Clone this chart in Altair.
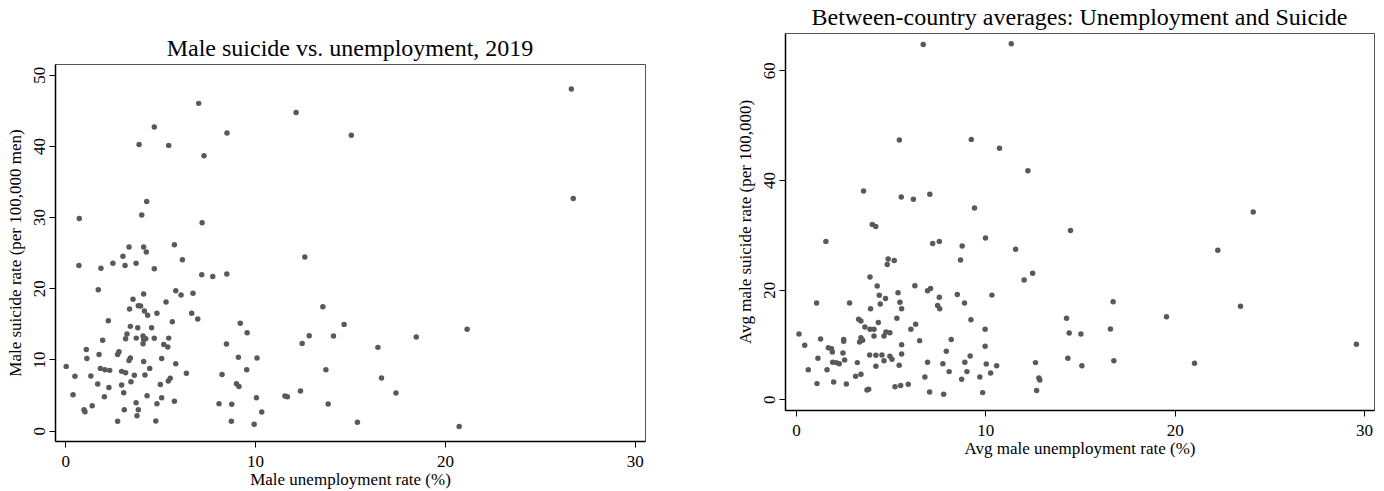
import altair as alt
import pandas as pd

# ---- Left panel: Male suicide vs. unemployment, 2019 ----
unemp_2019 = [
    3.36, 4.13, 4.27, 5.75, 3.04, 0.72, 1.88, 2.51, 3.15, 3.73, 4.69, 6.17, 7.19,
    1.74, 4.13, 5.82, 6.10, 6.73, 3.57, 5.31, 3.39, 3.85, 3.97, 4.17, 4.34, 4.83,
    6.66, 6.98, 2.27, 5.64, 3.43, 3.82, 4.55, 3.25, 3.18, 3.74, 4.10, 4.13, 4.24,
    4.10, 4.69, 5.45, 1.97, 5.19, 5.40, 1.11, 1.14, 1.78, 2.83, 2.76, 3.43, 3.36,
    4.13, 5.08, 5.82, 0.05, 1.85, 2.09, 2.34, 2.97, 3.18, 4.45, 6.38, 0.51, 1.35,
    3.64, 4.20, 5.53, 5.43, 1.71, 3.46, 5.01, 2.97, 2.30, 3.08, 0.41, 2.06, 4.31,
    5.08, 4.83, 5.75, 3.73, 1.42, 0.99, 1.04, 3.11, 3.85, 3.78, 2.76, 4.77,
    0.74, 4.03, 4.29, 7.21, 3.89, 4.69, 5.45, 7.03, 7.31, 8.52, 12.16, 12.62, 15.07,
    7.77, 8.51, 8.10, 8.26, 8.49, 8.77, 8.75, 9.22, 9.12, 9.02, 9.15, 9.58, 9.56,
    9.95, 10.07, 10.10, 10.35, 11.57, 11.70, 12.39, 12.48, 12.85, 13.57, 13.73,
    13.85, 14.13, 14.69,
    26.66, 26.76, 21.17, 18.49, 16.47, 16.66, 17.42, 15.39, 20.75,
]
suicide_2019 = [
    25.8, 25.8, 25.1, 26.1, 24.5, 23.2, 22.8, 23.5, 23.2, 23.5, 22.75, 24.0, 21.9,
    19.8, 19.2, 19.66, 19.06, 19.3, 18.45, 18.07, 17.1, 17.55, 17.5, 16.8, 16.2, 16.5,
    16.5, 15.7, 15.45, 15.3, 14.65, 14.47, 14.47, 13.58, 12.9, 13.0, 13.3, 12.8, 12.9,
    12.2, 12.97, 13.0, 12.7, 12.1, 11.75, 11.4, 10.15, 10.7, 11.1, 10.7, 10.2, 9.87,
    9.7, 10.15, 9.4, 9.03, 8.75, 8.57, 8.47, 8.33, 8.15, 8.75, 8.05, 7.63, 7.68,
    7.77, 7.82, 7.35, 6.97, 6.55, 6.88, 6.5, 6.41, 6.08, 5.34, 5.06, 4.78, 4.92,
    4.63, 3.79, 4.12, 3.93, 3.5, 2.95, 2.67, 2.95, 2.95, 2.1, 1.31, 1.36,
    29.8, 30.3, 32.2, 29.2, 40.2, 42.65, 40.07, 45.97, 38.6, 41.8, 44.7, 24.4, 41.5,
    21.67, 22.0, 3.79, 7.9, 12.17, 3.7, 1.31, 15.1, 10.3, 6.6, 6.2, 13.76, 8.57,
    0.89, 4.63, 10.2, 2.63, 4.87, 4.78, 5.57, 12.26, 13.34, 17.4, 8.57,
    3.75, 13.3, 14.93,
    48.0, 32.6, 14.23, 13.16, 11.7, 7.4, 5.29, 1.17, 0.6,
]

# ---- Right panel: Between-country averages ----
avg_unemp = [
    6.72, 11.37, 5.46, 9.26, 10.75, 12.25, 3.57, 5.56, 6.20, 7.07, 9.43, 4.03, 4.21,
    1.58, 7.22, 7.57, 8.78, 10.01, 11.60, 4.87, 5.19, 4.82, 8.69, 12.50, 12.05, 3.91,
    4.29, 6.28, 4.40, 4.73, 5.39, 6.95, 7.11, 7.57, 8.52, 10.35, 1.09, 2.83, 4.45,
    5.49, 5.58, 7.48, 7.59, 8.90, 3.94, 3.31, 3.43, 5.33, 9.24, 4.35, 6.32, 3.64,
    3.91, 4.12, 6.07, 9.99, 0.16, 4.12, 4.65, 4.75, 4.96, 3.43, 3.52, 3.36, 1.30,
    2.52, 2.52, 6.53, 8.20, 0.46, 5.58, 9.99, 1.71, 1.88, 1.92, 2.48, 3.89, 4.22,
    4.54, 4.96, 5.07, 5.58, 7.94, 9.20, 1.16, 2.57, 1.94, 2.13, 2.29, 3.24, 4.65,
    6.95, 7.76, 8.92, 10.05, 10.60, 12.65, 4.22, 5.45, 0.65, 1.64, 8.09, 9.03, 10.28,
    3.43, 3.15, 6.81, 9.71, 12.83, 12.88, 8.75, 1.11, 1.99, 2.66, 5.23, 5.53, 5.93,
    3.75, 3.84, 7.06, 7.80, 9.86, 12.71,
    24.15, 14.50, 22.28, 16.75, 23.48, 19.57, 14.29, 16.61, 14.43, 15.05, 29.60,
    14.36, 16.79, 15.10, 21.05,
]
avg_suicide = [
    64.7, 64.85, 47.3, 47.4, 45.8, 41.7, 37.98, 36.9, 36.5, 37.4, 34.9, 31.9, 31.5,
    28.8, 28.4, 28.8, 27.95, 29.4, 27.35, 25.6, 25.3, 24.6, 25.4, 22.97, 21.75, 22.3,
    20.66, 20.7, 18.96, 18.4, 19.45, 19.8, 20.2, 18.6, 19.1, 19.0, 17.56, 17.56, 17.4,
    17.7, 16.5, 17.1, 16.5, 17.56, 16.5, 14.6, 14.3, 14.77, 14.5, 14.0, 13.7, 13.2,
    12.76, 12.76, 12.76, 12.76, 11.9, 11.55, 11.55, 12.27, 12.15, 11.25, 10.76, 10.45, 11.0,
    10.9, 10.57, 10.7, 10.9, 9.85, 9.97, 9.66, 9.42, 9.24, 8.63, 8.44, 8.08, 8.02,
    8.08, 7.84, 7.29, 8.26, 8.75, 7.9, 7.47, 7.17, 6.75, 6.69, 6.5, 6.69, 7.05,
    6.75, 6.5, 6.75, 6.44, 6.14, 6.69, 6.02, 6.2, 5.41, 5.41, 5.05, 5.05, 4.8,
    4.56, 4.19, 4.07, 4.07, 3.88, 3.52, 3.65, 2.86, 3.15, 2.79, 2.31, 2.5, 2.73,
    1.7, 1.82, 1.34, 0.91, 1.22, 1.59,
    34.15, 30.8, 27.2, 17.8, 16.96, 15.07, 14.77, 12.82, 12.09, 11.9, 10.03,
    7.47, 7.05, 6.14, 6.56,
]

left_df = pd.DataFrame({"unemp": unemp_2019, "suicide": suicide_2019})
right_df = pd.DataFrame({"unemp": avg_unemp, "suicide": avg_suicide})
empty_df = pd.DataFrame({"unemp": pd.Series([], dtype=float)})

FONT = "Liberation Serif"
DOT = "#595959"

def yaxis(title, values):
    return alt.Axis(
        title=title, values=values, labelAngle=270, labelAlign="center",
        labelBaseline="alphabetic", labelPadding=5, titlePadding=6,
    )

def xaxis(title):
    return alt.Axis(title=title, values=[0, 10, 20, 30], labelPadding=6,
                    titlePadding=2, labelFlush=False)

left = alt.Chart(left_df).mark_circle(size=30, color=DOT, opacity=1).encode(
    x=alt.X("unemp:Q", scale=alt.Scale(domain=[-0.54, 30.54], nice=False, zero=False),
            axis=xaxis("Male unemployment rate (%)")),
    y=alt.Y("suicide:Q", scale=alt.Scale(domain=[-1.45, 51.5], nice=False, zero=False),
            axis=yaxis("Male suicide rate (per 100,000 men)", [0, 10, 20, 30, 40, 50])),
).properties(
    width=590, height=377,
    title=alt.TitleParams(text="Male suicide vs. unemployment, 2019"),
)

# empty spacer that lowers the left panel relative to the right one
spacer = alt.Chart(empty_df).mark_point().encode(
    x=alt.X("unemp:Q", axis=None),
).properties(width=590, height=1, view=alt.ViewBackground(stroke="transparent"))

right = alt.Chart(right_df).mark_circle(size=30, color=DOT, opacity=1).encode(
    x=alt.X("unemp:Q", scale=alt.Scale(domain=[-0.58, 30.53], nice=False, zero=False),
            axis=xaxis("Avg male unemployment rate (%)")),
    y=alt.Y("suicide:Q", scale=alt.Scale(domain=[-1.95, 66.8], nice=False, zero=False),
            axis=yaxis("Avg male suicide rate (per 100,000)", [0, 20, 40, 60])),
).properties(
    width=589, height=377,
    title=alt.TitleParams(text="Between-country averages: Unemployment and Suicide"),
)

chart = alt.hconcat(
    alt.vconcat(spacer, left, spacing=1), right, spacing=89
).configure(
    padding={"left": 5, "top": 5, "right": 5, "bottom": 5},
    background="white",
).configure_view(
    stroke="#555555", strokeWidth=1,
).configure_axis(
    labelFont=FONT, labelFontSize=17, labelColor="black",
    titleFont=FONT, titleFontSize=17, titleFontWeight="normal", titleColor="black",
    domainColor="black", domainWidth=1.5, tickColor="black", tickSize=6, tickWidth=1,
    grid=False,
).configure_title(
    font=FONT, fontSize=24, fontWeight="normal", color="black", anchor="middle", offset=3,
)

chart.save("out.html", embed_options={"renderer": "svg", "actions": False})
